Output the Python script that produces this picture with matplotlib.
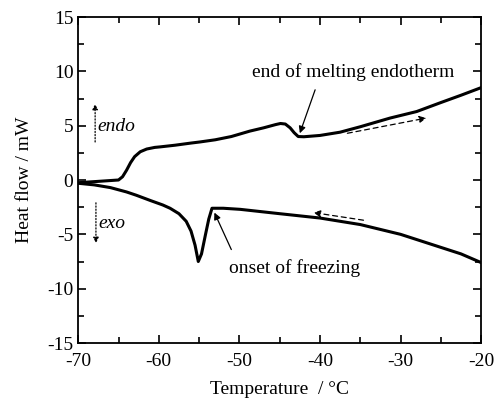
import matplotlib
matplotlib.use('Agg')
import matplotlib.pyplot as plt
from matplotlib.ticker import MultipleLocator

plt.rcParams['font.family'] = ['Liberation Serif', 'DejaVu Serif']
plt.rcParams['axes.unicode_minus'] = False

# нагрев (эндотерма плавления)
heat_T = [-70, -68, -66, -65, -64.5, -64, -63.5, -63, -62.3, -61.5, -60.5, -59.8, -58,
          -56, -54.9, -53, -51, -48.7, -47, -45.5, -44.9, -44.3, -43.7, -43.2, -42.7,
          -42, -40, -37.5, -35, -31.3, -28, -25.1, -22.5, -20]
heat_Q = [-0.25, -0.15, -0.05, 0.0, 0.3, 0.9, 1.6, 2.15, 2.6, 2.85, 3.0, 3.05, 3.2,
          3.4, 3.5, 3.7, 4.0, 4.5, 4.8, 5.1, 5.2, 5.15, 4.8, 4.35, 4.0,
          3.98, 4.1, 4.4, 4.9, 5.7, 6.3, 7.1, 7.8, 8.5]

# охлаждение (кристаллизация)
cool_T = [-70, -68, -66, -64, -62.8, -61, -59.5, -58.6, -57.5, -56.6, -56, -55.5,
          -55.1, -54.7, -54.2, -53.8, -53.4, -52, -49.9, -45, -40, -35, -30, -25, -22.5, -20]
cool_Q = [-0.3, -0.45, -0.7, -1.1, -1.4, -1.9, -2.3, -2.6, -3.1, -3.8, -4.7, -6.0,
          -7.5, -6.8, -5.0, -3.6, -2.6, -2.6, -2.7, -3.1, -3.5, -4.1, -5.0, -6.2, -6.8, -7.6]

fig = plt.figure(figsize=(4.95, 4.0), dpi=100)
ax = fig.add_axes([0.158, 0.1425, 0.814, 0.815])

ax.plot(heat_T, heat_Q, color='black', lw=2.2)
ax.plot(cool_T, cool_Q, color='black', lw=2.2)

ax.set_xlim(-70, -20)
ax.set_ylim(-15, 15)
ax.xaxis.set_major_locator(MultipleLocator(10))
ax.xaxis.set_minor_locator(MultipleLocator(5))
ax.yaxis.set_major_locator(MultipleLocator(5))
ax.yaxis.set_minor_locator(MultipleLocator(2.5))
ax.tick_params(which='both', direction='in', top=True, right=True, labelsize=14, width=1.2)
ax.tick_params(which='major', length=6)
ax.tick_params(which='minor', length=4)
ax.tick_params(axis='x', pad=7)
for s in ax.spines.values():
    s.set_linewidth(1.3)

ax.set_xlabel('Temperature  / °C', fontsize=14, labelpad=8)
ax.set_ylabel('Heat flow / mW', fontsize=14, labelpad=10)

arr = dict(arrowstyle='-|>', color='black', lw=0.9, shrinkA=0, shrinkB=0, mutation_scale=10)

# подписи со стрелками
ax.text(-35.9, 9.9, 'end of melting endotherm', fontsize=14, ha='center', va='center')
ax.annotate('', xy=(-42.5, 4.3), xytext=(-40.6, 8.3), arrowprops=arr)
ax.text(-51.3, -8.1, 'onset of freezing', fontsize=14, ha='left', va='center')
ax.annotate('', xy=(-53.1, -3.0), xytext=(-51.0, -6.4), arrowprops=arr)

# пунктирные стрелки направления
ax.annotate('', xy=(-26.8, 5.7), xytext=(-36.6, 4.3),
            arrowprops=dict(arr, ls=(0, (4, 3))))
ax.annotate('', xy=(-40.8, -3.0), xytext=(-34.6, -3.7),
            arrowprops=dict(arr, ls=(0, (4, 3))))

# endo / exo
ax.annotate('', xy=(-67.9, 7.0), xytext=(-67.9, 3.5),
            arrowprops=dict(arr, ls=(0, (1, 1.5)), mutation_scale=8))
ax.annotate('', xy=(-67.8, -5.8), xytext=(-67.8, -2.1),
            arrowprops=dict(arr, ls=(0, (1, 1.5)), mutation_scale=8))
ax.text(-67.6, 4.9, 'endo', fontsize=14, style='italic', va='center', ha='left')
ax.text(-67.5, -4.0, 'exo', fontsize=14, style='italic', va='center', ha='left')

fig.savefig('out.png', dpi=100)
